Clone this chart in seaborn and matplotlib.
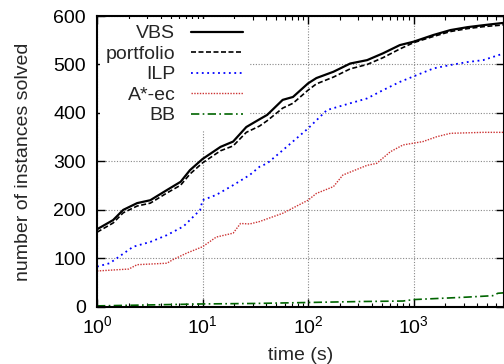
import numpy as np
import pandas as pd
import matplotlib
matplotlib.use("Agg")
import matplotlib.pyplot as plt
import seaborn as sns

# data (time in seconds, instances solved)
vbs_t = [1, 1.42, 1.77, 2.4, 3.2, 4.6, 6.2, 7.6, 10, 14.8, 19.5, 26, 34.7, 41, 57.5, 72, 100, 120, 174, 251, 363, 513, 741, 1000, 1550, 2240, 3240, 4570, 6600, 7200]
vbs_y = [160, 179, 200, 214, 220, 241, 258, 282, 305, 330, 341, 371, 387, 396, 427, 433, 461, 472, 485, 502, 509, 523, 540, 547, 561, 571, 577, 581, 585, 586]

port_t = [1, 1.42, 1.77, 2.4, 3.2, 4.6, 6.2, 7.6, 10, 14.8, 19.5, 26, 34.7, 41, 57.5, 72, 100, 120, 174, 251, 363, 513, 741, 1000, 1550, 2240, 3240, 4570, 6600, 7200]
port_y = [154, 173, 194, 208, 214, 235, 251, 274, 297, 322, 332, 360, 373, 384, 410, 420, 447, 460, 474, 491, 500, 514, 532, 545, 558, 568, 574, 578, 581, 582]

ilp_t = [1, 1.32, 2.2, 3.2, 4.6, 6.6, 9.5, 10, 13.5, 19.5, 28, 34.7, 41, 57.5, 100, 151, 251, 363, 513, 741, 1070, 1550, 2240, 3240, 4570, 7200]
ilp_y = [83, 90, 124, 134, 148, 166, 200, 220, 231, 251, 272, 289, 296, 323, 368, 406, 420, 430, 447, 464, 478, 492, 499, 505, 509, 523]

astar_t = [1, 2.0, 2.4, 4.6, 5.2, 7.1, 10, 13.5, 19.5, 22.9, 28, 34.7, 57.5, 100, 120, 174, 214, 363, 447, 603, 794, 1230, 1660, 2240, 4570, 7200]
astar_y = [74, 78, 87, 90, 97, 111, 124, 144, 152, 172, 171, 176, 193, 220, 234, 248, 272, 292, 296, 320, 334, 341, 351, 358, 360, 360]

bb_t = [1, 3.2, 10, 31.6, 100, 316, 794, 1000, 3160, 5620, 6300, 7200]
bb_y = [2, 4, 6, 7, 9, 11, 12, 15, 20, 23, 28, 29]

series = [
    ("VBS", vbs_t, vbs_y, "black", "-", 1.6),
    ("portfolio", port_t, port_y, "black", (0, (3, 1.5)), 1.2),
    ("ILP", ilp_t, ilp_y, "#0000ff", (0, (1, 2)), 1.3),
    ("A*-ec", astar_t, astar_y, "#cc3333", (0, (1, 1)), 1.0),
    ("BB", bb_t, bb_y, "#006400", (0, (5, 2, 1, 2)), 1.2),
]

sns.set_style("ticks")
plt.rcParams['font.family'] = ['Liberation Sans', 'DejaVu Sans']

fig = plt.figure(figsize=(5.04, 3.64), dpi=100)
ax = fig.add_axes([0.1925, 0.157, 0.8075, 0.799])

for name, t, y, c, ls, lw in series:
    df = pd.DataFrame({"time": t, "solved": y})
    sns.lineplot(data=df, x="time", y="solved", ax=ax, color=c,
                 linestyle=ls, linewidth=lw, label=name)

ax.set_xscale("log")
ax.set_xlim(1, 7200)
ax.set_ylim(0, 600)
ax.set_yticks([0, 100, 200, 300, 400, 500, 600])
ax.grid(True, which="major", color="#888888", linestyle=(0, (1, 1.5)), linewidth=0.8)
ax.tick_params(which="both", direction="in", top=True, right=True, labelsize=14, colors="black")
ax.tick_params(which="major", length=6, width=1)
ax.tick_params(which="minor", length=3, width=0.8)
ax.tick_params(axis="x", pad=6)
ax.tick_params(axis="y", pad=8)
for s in ax.spines.values():
    s.set_linewidth(1.5)
    s.set_color("black")

ax.set_xlabel("time (s)", fontsize=14, labelpad=7)
ax.set_ylabel("number of instances solved", fontsize=14, labelpad=15)

leg = ax.legend(loc="upper left", markerfirst=False, fontsize=14, handlelength=2.7,
                labelspacing=0.15, borderaxespad=0.15, frameon=True, fancybox=False,
                handletextpad=0.8, borderpad=0.3)
leg.get_frame().set_facecolor("white")
leg.get_frame().set_edgecolor("none")
leg.get_frame().set_alpha(1)
leg.set_zorder(1.5)

fig.savefig("out.png", dpi=100)
